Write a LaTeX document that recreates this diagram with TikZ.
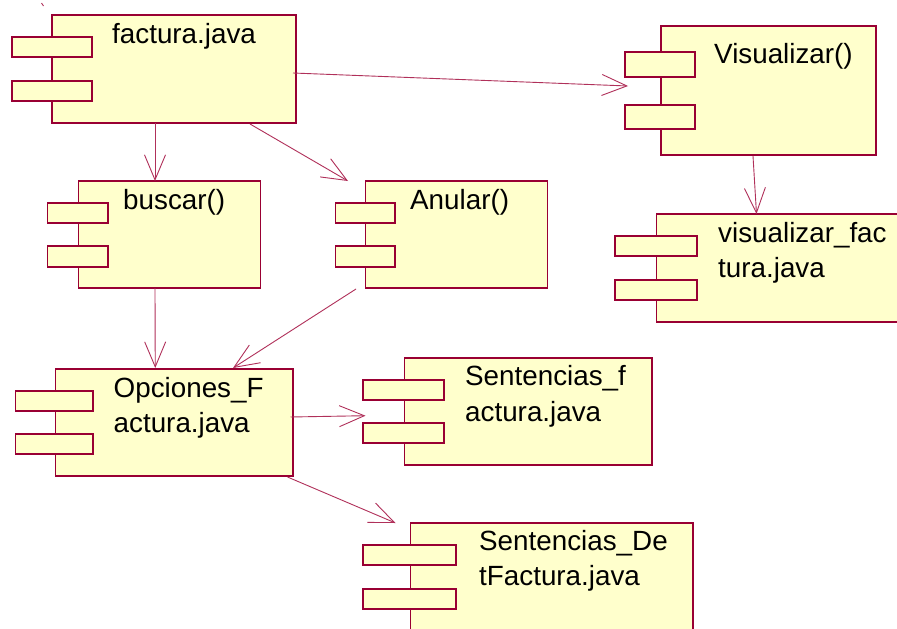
\documentclass[tikz,border=0pt]{standalone}
\usepackage{fontspec}
\setmainfont{Liberation Sans}
\usetikzlibrary{arrows.meta}
\definecolor{bord}{HTML}{990033}
\definecolor{conn}{HTML}{B0305A}
\definecolor{fillc}{HTML}{FFFFCC}
\begin{document}
\begin{tikzpicture}[x=1pt,y=-1pt,
  mainbox/.style={draw=bord,fill=fillc,line width=1.8pt,anchor=north west,inner sep=0pt,outer sep=0pt},
  smallbox/.style={draw=bord,fill=fillc,line width=1.8pt,anchor=north west,inner sep=0pt,outer sep=0pt},
  lbl/.style={anchor=base west,inner sep=0pt,font=\fontsize{27.8}{32}\selectfont},
  conn/.style={draw=conn,line width=0.9pt,-{Straight Barb[length=25pt,width=21pt]}}]
\useasboundingbox (0,0) rectangle (897,629);
\fill[white] (0,0) rectangle (897,629);
\draw[conn,-] (41.5,3) -- (43.5,6);
% factura.java
\node[mainbox,minimum width=244pt,minimum height=108pt] (fact) at (52,15) {};
\node[smallbox,minimum width=80pt,minimum height=20pt] (factA) at (12,37) {};
\node[smallbox,minimum width=80pt,minimum height=20pt] (factB) at (12,81) {};
\node[lbl] (factT) at (112,43) {factura.java};
% Visualizar()
\node[mainbox,minimum width=215pt,minimum height=129pt] (vis) at (661,26) {};
\node[smallbox,minimum width=70pt,minimum height=25pt] (visA) at (625,52) {};
\node[smallbox,minimum width=70pt,minimum height=24pt] (visB) at (625,105) {};
\node[lbl] (visT) at (714,63) {Visualizar()};
% buscar()
\node[mainbox,minimum width=182pt,minimum height=107pt] (busc) at (78.5,181) {};
\node[smallbox,minimum width=60.5pt,minimum height=20pt] (buscA) at (47.5,203) {};
\node[smallbox,minimum width=60.5pt,minimum height=21pt] (buscB) at (47.5,246) {};
\node[lbl] (buscT) at (123,209) {buscar()};
% Anular()
\node[mainbox,minimum width=182pt,minimum height=107pt] (anul) at (365.5,181) {};
\node[smallbox,minimum width=59.5pt,minimum height=20pt] (anulA) at (335.5,203) {};
\node[smallbox,minimum width=59.5pt,minimum height=21pt] (anulB) at (335.5,246) {};
\node[lbl] (anulT) at (410,209) {Anular()};
% visualizar_factura.java
\node[mainbox,minimum width=253pt,minimum height=108pt] (visf) at (656.5,214) {};
\node[smallbox,minimum width=82pt,minimum height=20pt] (visfA) at (615,236) {};
\node[smallbox,minimum width=82pt,minimum height=20pt] (visfB) at (615,280) {};
\node[lbl] (visfT1) at (718,242) {visualizar\_fac};
\node[lbl] (visfT2) at (718,277) {tura.java};
% Opciones_Factura.java
\node[mainbox,minimum width=237.5pt,minimum height=107pt] (opc) at (55.5,369) {};
\node[smallbox,minimum width=77.5pt,minimum height=20pt] (opcA) at (15.5,391) {};
\node[smallbox,minimum width=77.5pt,minimum height=20pt] (opcB) at (15.5,434) {};
\node[lbl] (opcT1) at (113.5,397) {Opciones\_F};
\node[lbl] (opcT2) at (113.5,432) {actura.java};
% Sentencias_factura.java
\node[mainbox,minimum width=247.5pt,minimum height=107pt] (senf) at (404.5,358) {};
\node[smallbox,minimum width=81pt,minimum height=20pt] (senfA) at (363,380) {};
\node[smallbox,minimum width=81pt,minimum height=20pt] (senfB) at (363,423) {};
\node[lbl] (senfT1) at (465,385) {Sentencias\_f};
\node[lbl] (senfT2) at (465,421) {actura.java};
% Sentencias_DetFactura.java
\node[mainbox,minimum width=282.5pt,minimum height=120pt] (det) at (410.5,523) {};
\node[smallbox,minimum width=93pt,minimum height=20pt] (detA) at (363,545) {};
\node[smallbox,minimum width=93pt,minimum height=20pt] (detB) at (363,589) {};
\node[lbl] (detT1) at (479,550) {Sentencias\_De};
\node[lbl] (detT2) at (479,585) {tFactura.java};
% connectors
\draw[conn] ([xshift=-3pt,yshift=-4pt]fact.east) -- ([xshift=-33pt,yshift=4.5pt]vis.west);
\draw[conn] ([xshift=-19pt]fact.south) -- ([xshift=-14.5pt]busc.north);
\draw[conn] ([xshift=-46pt,yshift=-1pt]fact.south east) -- ([xshift=-17.5pt]anul.north west);
\draw[conn] ([xshift=-14.5pt]busc.south) -- ([xshift=-19pt,yshift=1pt]opc.north);
\draw[conn] ([xshift=-9.5pt,yshift=-1pt]anul.south west) -- ([xshift=-60pt,yshift=1pt]opc.north east);
\draw[conn] ([xshift=-2.5pt,yshift=5.5pt]opc.east) -- ([xshift=-39pt,yshift=-4.2pt]senf.west);
\draw[conn] ([xshift=-5.5pt,yshift=-1pt]opc.south east) -- ([xshift=-15pt]det.north west);
\draw[conn] ([xshift=-15.5pt,yshift=-1pt]vis.south) -- ([xshift=100pt]visf.north west);
\end{tikzpicture}
\end{document}
